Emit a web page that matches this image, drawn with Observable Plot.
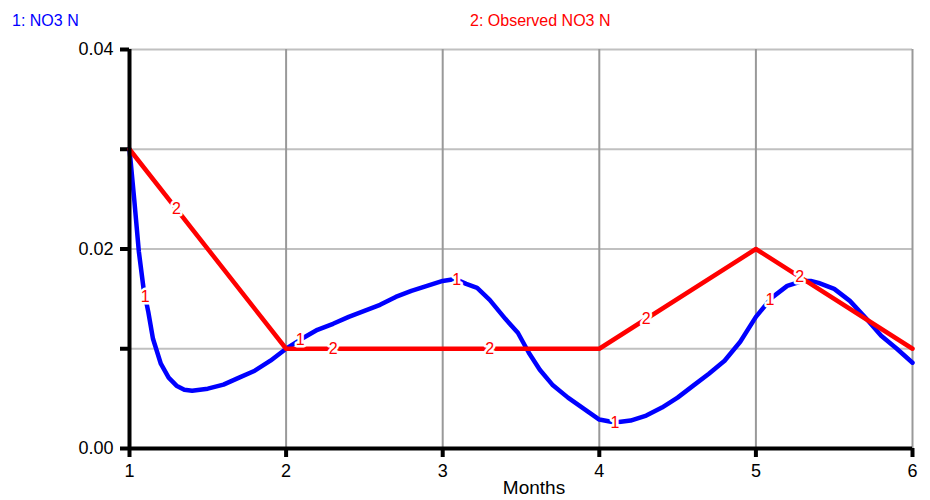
<!DOCTYPE html>
<html>
<head>
<meta charset="utf-8">
<script src="https://cdn.jsdelivr.net/npm/d3@7"></script>
<script src="https://cdn.jsdelivr.net/npm/@observablehq/plot@0.6"></script>
<style>
  body { margin: 0; background: #fff; font-family: "Liberation Sans", Arial, sans-serif; }
  #legend { position: relative; width: 930px; height: 37px; }
  #legend span { position: absolute; top: 13px; font-size: 16px; line-height: 16px; white-space: pre; }
  #chart svg { display: block; }
</style>
</head>
<body>
<div id="legend"></div>
<div id="chart"></div>
<script>
// Series 1: NO3 N (simulated)
const simMonths = [1, 1.03, 1.06, 1.09, 1.12, 1.15, 1.2, 1.25, 1.3, 1.35, 1.4, 1.45, 1.5, 1.6, 1.7, 1.8, 1.9, 2.0,
  2.1, 2.2, 2.3, 2.4, 2.5, 2.6, 2.7, 2.8, 2.9, 3.0, 3.08, 3.15, 3.22, 3.3, 3.4, 3.48, 3.55, 3.62, 3.7, 3.8, 3.9, 4.0,
  4.1, 4.2, 4.3, 4.4, 4.5, 4.6, 4.7, 4.8, 4.9, 5.0, 5.1, 5.2, 5.3, 5.35, 5.4, 5.5, 5.6, 5.7, 5.8, 5.9, 6.0];
const simValues = [0.0300, 0.0250, 0.0197, 0.0160, 0.0137, 0.0110, 0.0085, 0.0071, 0.0063, 0.0059, 0.0058, 0.0059, 0.0060,
  0.0064, 0.0071, 0.0078, 0.0088, 0.0100, 0.0110, 0.0119, 0.0125, 0.0132, 0.0138, 0.0144, 0.0152, 0.0158, 0.0163, 0.0168,
  0.0170, 0.0165, 0.0161, 0.0149, 0.0130, 0.0116, 0.0096, 0.0079, 0.0064, 0.0051, 0.0040, 0.0029, 0.0026, 0.0028, 0.0033,
  0.0041, 0.0051, 0.0063, 0.0075, 0.0088, 0.0107, 0.0132, 0.0151, 0.0163, 0.0168, 0.0168, 0.0166, 0.0160, 0.0148, 0.0131,
  0.0113, 0.0100, 0.0086];

// Series 2: Observed NO3 N
const obsMonths = [1, 2, 3, 4, 5, 6];
const obsValues = [0.030, 0.010, 0.010, 0.010, 0.020, 0.010];

// Series marker label positions (months)
const simLabelMonths = [1.1, 2.09, 3.09, 4.1, 5.09];
const obsLabelMonths = [1.3, 2.3, 3.3, 4.3, 5.28];

// Axis ticks
const xTicks = [1, 2, 3, 4, 5, 6];
const yTicks = [0, 0.01, 0.02, 0.03, 0.04];
const yTickLabels = ["0.00", "", "0.02", "", "0.04"];

const seriesNames = ["1: NO3 N", "2: Observed NO3 N"];
const seriesColors = ["#0000ff", "#ff0000"];

const sim = simMonths.map((m, i) => ({month: m, value: simValues[i]}));
const obs = obsMonths.map((m, i) => ({month: m, value: obsValues[i]}));

function interp(xs, ys, x) {
  const i = Math.max(1, d3.bisectLeft(xs, x));
  const x0 = xs[i - 1], x1 = xs[i], y0 = ys[i - 1], y1 = ys[i];
  return y0 + (y1 - y0) * (x - x0) / (x1 - x0);
}
const labels = [
  ...simLabelMonths.map(m => ({month: m, value: interp(simMonths, simValues, m), text: "1"})),
  ...obsLabelMonths.map(m => ({month: m, value: interp(obsMonths, obsValues, m), text: "2"}))
];

// Legend
const legend = document.getElementById("legend");
[[12, 0], [470, 1]].forEach(([left, i]) => {
  const s = document.createElement("span");
  s.style.left = left + "px";
  s.style.color = seriesColors[i];
  s.textContent = seriesNames[i];
  legend.appendChild(s);
});

const chart = Plot.plot({
  width: 930,
  height: 463,
  marginLeft: 129,
  marginRight: 18,
  marginTop: 12,
  marginBottom: 52,
  style: {fontFamily: "'Liberation Sans', Arial, sans-serif", background: "white", color: "black"},
  x: {domain: [1, 6]},
  y: {domain: [0, 0.04]},
  marks: [
    Plot.ruleY(yTicks.filter(d => d > 0), {stroke: "#c0c0c0", strokeWidth: 2}),
    Plot.ruleX(xTicks.filter(d => d > 1), {stroke: "#999999", strokeWidth: 2}),
    Plot.axisY({ticks: yTicks, tickFormat: d => yTickLabels[yTicks.indexOf(d)], tickSize: 9, tickPadding: 7,
      fontSize: 18, strokeWidth: 4, label: null}),
    Plot.axisX({ticks: xTicks, tickFormat: d => String(d), tickSize: 9, tickPadding: 7,
      fontSize: 18, strokeWidth: 4, label: null}),
    Plot.text(["Months"], {frameAnchor: "bottom", dy: 45, dx: 13, fontSize: 19, fill: "black"}),
    Plot.line(sim, {x: "month", y: "value", stroke: seriesColors[0], strokeWidth: 4.5}),
    Plot.line(obs, {x: "month", y: "value", stroke: seriesColors[1], strokeWidth: 4.5}),
    Plot.ruleX([1], {stroke: "black", strokeWidth: 4}),
    Plot.ruleY([0], {stroke: "black", strokeWidth: 4}),
    Plot.text(labels, {x: "month", y: "value", text: "text", fill: "#ff0000", stroke: "white", strokeWidth: 5,
      paintOrder: "stroke", fontSize: 16})
  ]
});
document.getElementById("chart").appendChild(chart);
</script>
</body>
</html>
